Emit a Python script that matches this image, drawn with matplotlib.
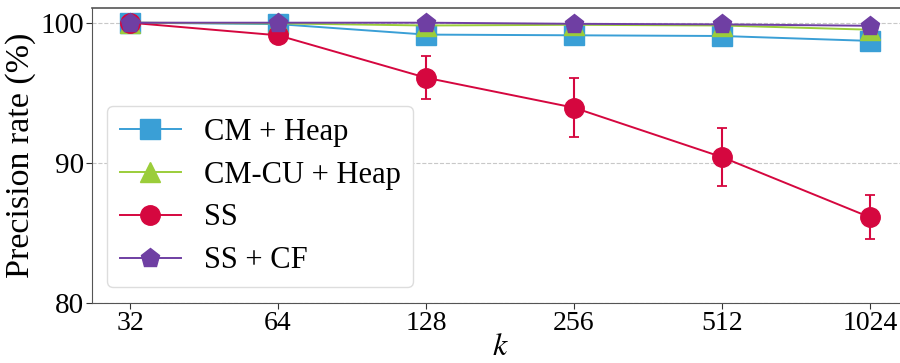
import matplotlib.pyplot as plt

plt.rcParams['font.family'] = ['Liberation Serif', 'DejaVu Serif']
plt.rcParams['mathtext.fontset'] = 'stix'

# data
k_values = [32, 64, 128, 256, 512, 1024]
cm_heap = [100.0, 99.9, 99.15, 99.1, 99.05, 98.7]
cm_heap_err = [0.05, 0.1, 0.25, 0.25, 0.25, 0.3]
cmcu_heap = [100.0, 99.95, 99.8, 99.85, 99.8, 99.5]
cmcu_heap_err = [0.05, 0.05, 0.1, 0.1, 0.1, 0.15]
ss = [100.0, 99.1, 96.07, 93.93, 90.4, 86.1]
ss_err = [0.05, 0.45, 1.55, 2.12, 2.05, 1.58]
ss_cf = [100.0, 100.0, 100.0, 99.92, 99.88, 99.78]
ss_cf_err = [0.02, 0.03, 0.03, 0.05, 0.05, 0.06]

series = [
    ("CM + Heap", cm_heap, cm_heap_err, "#3a9fd6", "s"),
    ("CM-CU + Heap", cmcu_heap, cmcu_heap_err, "#9bcd3a", "^"),
    ("SS", ss, ss_err, "#d5073f", "o"),
    ("SS + CF", ss_cf, ss_cf_err, "#6f3fa3", "p"),
]

fig = plt.figure(figsize=(9, 3.63), dpi=100)
ax = fig.add_axes([92 / 900, 60.3 / 363, 816 / 900, 294.7 / 363])

handles = []
for label, vals, err, color, marker in series:
    eb = ax.errorbar(k_values, vals, yerr=err, label=label, color=color,
                     marker=marker, markersize=14, linewidth=1.4,
                     elinewidth=1.5, capsize=3.5, capthick=1.3)
    handles.append(eb[0])

ax.set_xscale('log', base=2)
ax.set_xlim(32 * 2 ** -0.257, 1024 * 2 ** 0.257)
ax.set_xticks(k_values)
ax.set_xticklabels([str(k) for k in k_values])
ax.minorticks_off()
ax.set_ylim(80, 101.05)
ax.set_yticks([80, 90, 100])

ax.yaxis.grid(True, linestyle='--', color='#c8c8c8', linewidth=0.8)
ax.set_axisbelow(True)
for side in ['left', 'bottom', 'top']:
    ax.spines[side].set_color('#555555')
ax.spines['top'].set_linewidth(1.2)
ax.tick_params(colors='#333333', labelcolor='black', length=4)
ax.tick_params(axis='y', labelsize=21, pad=2)
ax.tick_params(axis='x', labelsize=20, pad=2)

ax.set_xlabel(r'$k$', fontsize=23, labelpad=-2)
ax.set_ylabel('Precision rate (%)', fontsize=24.5, labelpad=3)

ax.legend(handles, [s[0] for s in series], loc='lower left',
          bbox_to_anchor=(0.0, 0.0), fontsize=22,
          handlelength=2.0, handletextpad=0.75, labelspacing=0.45,
          borderpad=0.4, framealpha=1, edgecolor='#dddddd', fancybox=True)

fig.savefig('out.png', dpi=100)
